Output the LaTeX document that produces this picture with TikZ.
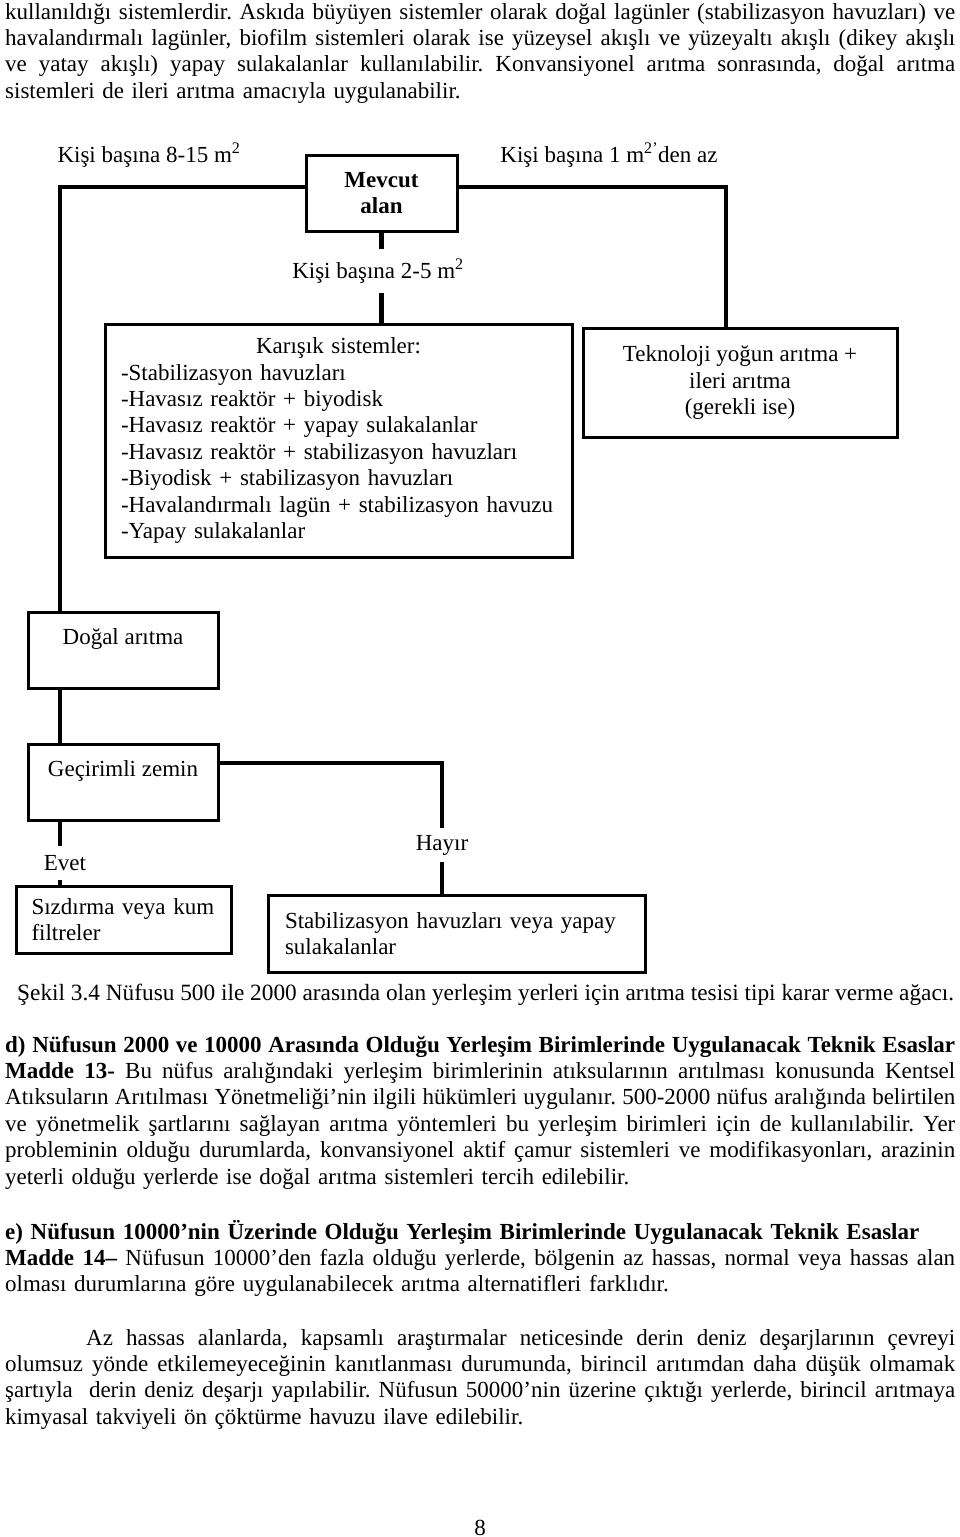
\documentclass[tikz,border=0pt]{standalone}
\usepackage{fontspec}
\setmainfont{Liberation Serif}
\usetikzlibrary{positioning}

\newcommand{\yazi}{\fontsize{23}{26.4}\selectfont\frenchspacing}
\newcommand{\satir}[1]{\leavevmode\hbox to 950pt{\fontdimen3\font=14pt\fontdimen4\font=2.2pt\spaceskip=5.75pt plus 14pt minus 2.2pt\relax #1}}

\begin{document}
\begin{tikzpicture}[x=1pt,y=-1pt,
  kutu/.style={draw,line width=3pt,inner sep=0pt,font=\yazi},
  etiket/.style={inner sep=0pt,font=\yazi},
  baglanti/.style={line width=4.5pt},
  paragraf/.style={inner sep=0pt,text width=950pt,align=left,font=\yazi,anchor=base west}]

  \useasboundingbox (0,0) rectangle (960,1537);

  % TEXT ABOVE
  \node[paragraf] (Ust) at (5,19) {\satir{kullanıldığı sistemlerdir. Askıda büyüyen sistemler olarak doğal lagünler (stabilizasyon havuzları) ve}\\
    \satir{havalandırmalı lagünler, biofilm sistemleri olarak ise yüzeysel akışlı ve yüzeyaltı akışlı (dikey akışlı}\\
    \satir{ve yatay akışlı) yapay sulakalanlar kullanılabilir. Konvansiyonel arıtma sonrasında, doğal arıtma}\\
    sistemleri de ileri arıtma amacıyla uygulanabilir.};

  % MEVCUT ALAN
  \node[kutu,minimum width=151pt,minimum height=76pt,align=center,font=\yazi\bfseries] (Mevcut) at (381.5,193) {Mevcut\\alan};
  \node[etiket] (KisiB) at (149,155) {Kişi başına 8-15 m\textsuperscript{2}};
  \node[etiket] (KisiK) at (609,155) {Kişi başına 1 m\textsuperscript{2’}den az};
  \node[etiket,inner ysep=10pt] (KisiO) at (378,271) {Kişi başına 2-5 m\textsuperscript{2}};
  \coordinate (Sol) at (60,187);
  \coordinate (Sag) at (726,187);

  % KARISIK / TEKNOLOJI
  \node[kutu,text width=435pt,inner xsep=16pt,minimum height=233pt,align=left] (Karisik) at (338.5,440.5)
    {\makebox[435pt]{Karışık sistemler:}\\
     -Stabilizasyon havuzları\\
     -Havasız reaktör + biyodisk\\
     -Havasız reaktör + yapay sulakalanlar\\
     -Havasız reaktör + stabilizasyon havuzları\\
     -Biyodisk + stabilizasyon havuzları\\
     -Havalandırmalı lagün + stabilizasyon havuzu\\
     -Yapay sulakalanlar};
  \node[kutu,minimum width=314pt,minimum height=109pt,align=center] (Tekno) at (740,382.5)
    {Teknoloji yoğun arıtma +\\ileri arıtma\\(gerekli ise)};

  % DOGAL ARITMA
  \node[kutu,minimum width=190pt,minimum height=76pt,align=center] (Dogal) at (123,650) {Doğal arıtma\\~};
  \node[kutu,minimum width=190pt,minimum height=76pt,align=center] (Gecir) at (123,782) {Geçirimli zemin\\~};
  \node[etiket,inner ysep=9pt] (Evet) at (65,863) {Evet};
  \node[etiket,inner ysep=7pt] (Hayir) at (442,845) {Hayır};
  \coordinate (HKose) at (442,763);
  \node[kutu,text width=184pt,inner xsep=15.5pt,minimum height=67pt,align=left] (Sizd) at (123.5,919.5)
    {Sızdırma veya kum\\filtreler};
  \node[kutu,text width=343pt,inner xsep=17pt,minimum height=77pt,align=left] (Stab) at (456.5,933.5)
    {Stabilizasyon havuzları veya yapay\\sulakalanlar};

  % CONNECTIONS
  \draw[baglanti] (Mevcut.west |- Sol) -- (Sol) -- (Sol |- Dogal.north);
  \draw[baglanti] (Mevcut.east |- Sag) -- (Sag) -- (Sag |- Tekno.north);
  \draw[baglanti] (Mevcut.south) -- (Mevcut.south |- KisiO.north);
  \draw[baglanti] (Mevcut.south |- KisiO.south) -- (Mevcut.south |- Karisik.north);
  \draw[baglanti] (Sol |- Dogal.south) -- (Sol |- Gecir.north);
  \draw[baglanti] (Sol |- Gecir.south) -- (Sol |- Evet.north);
  \draw[baglanti] (Sol |- Evet.south) -- (Sol |- Sizd.north);
  \draw[baglanti] (Gecir.east |- HKose) -- (HKose) -- (Hayir.north);
  \draw[baglanti] (Hayir.south) -- (Hayir |- Stab.north);

  % CAPTION AND TEXT BELOW
  \node[etiket,anchor=base west,font=\fontsize{23.3}{26.4}\selectfont] (Sekil) at (17,1000) {Şekil 3.4 Nüfusu 500 ile 2000 arasında olan yerleşim yerleri için arıtma tesisi tipi karar verme ağacı.};

  \node[paragraf] (ParD) at (5,1052) {\satir{\textbf{d) Nüfusun 2000 ve 10000 Arasında Olduğu Yerleşim Birimlerinde Uygulanacak Teknik Esaslar}}\\
    \satir{\textbf{Madde 13-} Bu nüfus aralığındaki yerleşim birimlerinin atıksularının arıtılması konusunda Kentsel}\\
    \satir{Atıksuların Arıtılması Yönetmeliği’nin ilgili hükümleri uygulanır. 500-2000 nüfus aralığında belirtilen}\\
    \satir{ve yönetmelik şartlarını sağlayan arıtma yöntemleri bu yerleşim birimleri için de kullanılabilir. Yer}\\
    \satir{probleminin olduğu durumlarda, konvansiyonel aktif çamur sistemleri ve modifikasyonları, arazinin}\\
    yeterli olduğu yerlerde ise doğal arıtma sistemleri tercih edilebilir.};

  \node[paragraf] (ParE) at (5,1239) {\textbf{e) Nüfusun 10000’nin Üzerinde Olduğu Yerleşim Birimlerinde Uygulanacak Teknik Esaslar}\\
    \satir{\textbf{Madde 14–} Nüfusun 10000’den fazla olduğu yerlerde, bölgenin az hassas, normal veya hassas alan}\\
    olması durumlarına göre uygulanabilecek arıtma alternatifleri farklıdır.};

  \node[paragraf] (ParAz) at (5,1345) {\satir{\hspace*{81pt}Az hassas alanlarda, kapsamlı araştırmalar neticesinde derin deniz deşarjlarının çevreyi}\\
    \satir{olumsuz yönde etkilemeyeceğinin kanıtlanması durumunda, birincil arıtımdan daha düşük olmamak}\\
    \satir{şartıyla\ \ derin deniz deşarjı yapılabilir. Nüfusun 50000’nin üzerine çıktığı yerlerde, birincil arıtmaya}\\
    kimyasal takviyeli ön çöktürme havuzu ilave edilebilir.};

  \node[etiket,anchor=base] (Sayfa) at (480,1535) {8};
\end{tikzpicture}
\end{document}
